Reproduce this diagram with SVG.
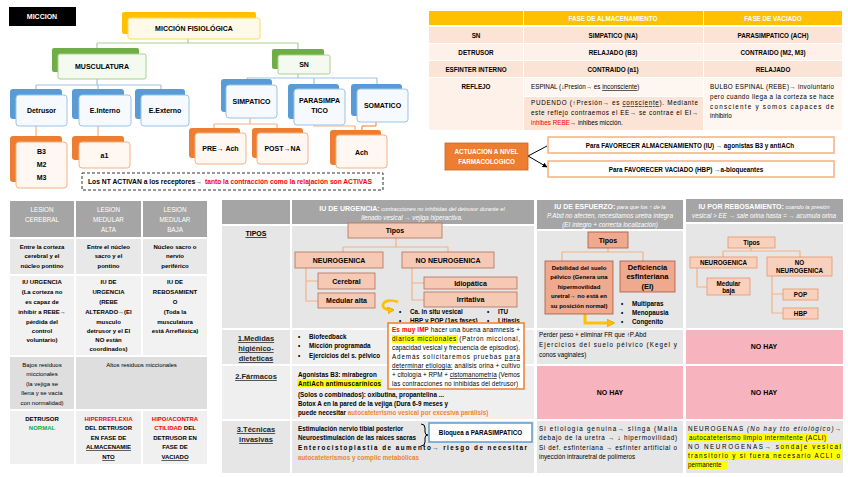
<svg xmlns="http://www.w3.org/2000/svg" width="848" height="477" viewBox="0 0 848 477">
<defs>
<style>
text{font-family:"Liberation Sans",Arial,sans-serif;font-size:6.3px;fill:#000}
.b{font-weight:bold}
.m{text-anchor:middle}
.w{fill:#fff}
.r{fill:#ff0000}
.o{fill:#F0852F}
.g{fill:#00B050}
.i{font-style:italic}
.u{text-decoration:underline}
.f7{font-size:7px}
.f6{font-size:6px}
.f75{font-size:7.5px}
.lab{font-size:7.5px;font-weight:bold;fill:#222;text-anchor:middle;text-decoration:underline}
.hdr{fill:#A5A5A5}
.ln-g{stroke:#A9D18E;stroke-width:1.2;fill:none}
.ln-b{stroke:#9DC3E6;stroke-width:1.2;fill:none}
.ln-o{stroke:#F4B183;stroke-width:1.2;fill:none}
.bk-y{fill:#FFC000}
.fr-y{fill:#FFF9E8;stroke:#FFD966;stroke-width:1}
.bk-g{fill:#70AD47}
.fr-g{fill:#F4FAF0;stroke:#A9D18E;stroke-width:1}
.bk-b{fill:#5B9BD5}
.fr-b{fill:#F6FAFE;stroke:#9DC3E6;stroke-width:1}
.bk-o{fill:#ED7D31}
.fr-o{fill:#FFF7F2;stroke:#F4B183;stroke-width:1}
.tb{fill:#F6C9B5;stroke:#B0705A;stroke-width:0.8}
.tb2{fill:#EFA98F;stroke:#A8583C;stroke-width:0.8}
.tb3{fill:#F9D0BC;stroke:#E8956C;stroke-width:0.8}
.pk{fill:#F8B4BE}
.hl{fill:#FFFF00}
.c1{fill:#E6E6E6}
.c2{fill:#EFEFEF}
.p1{fill:#FBE4D5}
.p2{fill:#FDF1E9}
</style>
<marker id="ak" viewBox="0 0 10 10" refX="9" refY="5" markerWidth="5" markerHeight="5" orient="auto-start-reverse"><path d="M0,0L10,5L0,10z" fill="#000"/></marker>
<marker id="ao" viewBox="0 0 10 10" refX="9" refY="5" markerWidth="4" markerHeight="4" orient="auto-start-reverse"><path d="M0,0L10,5L0,10z" fill="#ED7D31"/></marker>
<marker id="ay" viewBox="0 0 10 10" refX="8" refY="5" markerWidth="2.6" markerHeight="2.6" orient="auto"><path d="M0,0L10,5L0,10z" fill="#FFC000" stroke="#E0A000"/></marker>
</defs>
<rect width="848" height="477" fill="#fff"/>

<g id="tables">
  <!-- top right table -->
  <rect x="429" y="11" width="94" height="14" fill="#FFC000"/>
  <rect x="524" y="11" width="179" height="14" fill="#FFC000"/>
  <rect x="704" y="11" width="138" height="14" fill="#FFC000"/>
  <text class="b w m" x="613" y="20.5">FASE DE ALMACENAMIENTO</text>
  <text class="b w m" x="773" y="20.5">FASE DE VACIADO</text>
  <rect class="p1" x="429" y="27" width="94" height="16"/><rect class="p1" x="524" y="27" width="179" height="16"/><rect class="p1" x="704" y="27" width="138" height="16"/>
  <rect class="p2" x="429" y="44" width="94" height="16"/><rect class="p2" x="524" y="44" width="179" height="16"/><rect class="p2" x="704" y="44" width="138" height="16"/>
  <rect class="p1" x="429" y="61" width="94" height="16"/><rect class="p1" x="524" y="61" width="179" height="16"/><rect class="p1" x="704" y="61" width="138" height="16"/>
  <rect class="p2" x="429" y="78" width="94" height="52"/><rect fill="#FEF6F1" x="524" y="78" width="179" height="18"/><rect class="p1" x="524" y="97" width="179" height="33"/><rect fill="#FEF6F1" x="704" y="78" width="138" height="52"/>
  <text class="b m" x="476" y="37.5">SN</text>
  <text class="b m" x="613" y="37.5">SIMPATICO (NA)</text>
  <text class="b m" x="773" y="37.5">PARASIMPATICO (ACH)</text>
  <text class="b m" x="476" y="54.5">DETRUSOR</text>
  <text class="b m" x="613" y="54.5">RELAJADO (B3)</text>
  <text class="b m" x="773" y="54.5">CONTRAIDO (M2, M3)</text>
  <text class="b m" x="476" y="71.5">ESFINTER INTERNO</text>
  <text class="b m" x="613" y="71.5">CONTRAIDO (a1)</text>
  <text class="b m" x="773" y="71.5">RELAJADO</text>
  <text class="b m" x="476" y="89">REFLEJO</text>
  <text x="531" y="89">ESPINAL (↓Presión→ es <tspan class="u">inconsciente</tspan>)</text>
  <text x="531" y="105" textLength="167" lengthAdjust="spacing">PUDENDO (↑Presión→ es <tspan class="u">consciente</tspan>). Mediante</text>
  <text x="531" y="115" textLength="167" lengthAdjust="spacing">este reflejo contraemos el EE→ se contrae el EI→</text>
  <text x="531" y="125"><tspan class="r">inhibes REBE</tspan>→ inhibes micción.</text>
  <text x="710" y="89" textLength="124" lengthAdjust="spacing">BULBO ESPINAL (REBE)→ involuntario</text>
  <text x="710" y="99" textLength="124" lengthAdjust="spacing">pero cuando llega a la corteza se hace</text>
  <text x="710" y="109" textLength="124" lengthAdjust="spacing">consciente y somos capaces de</text>
  <text x="710" y="118">inhibirlo</text>

  <!-- bottom left table -->
  <rect class="hdr" x="10" y="201" width="64" height="36"/><rect class="hdr" x="76" y="201" width="65" height="36"/><rect class="hdr" x="143" y="201" width="64" height="36"/>
  <rect fill="#E8E8E8" x="10" y="239" width="64" height="35"/><rect fill="#E8E8E8" x="76" y="239" width="65" height="35"/><rect fill="#E8E8E8" x="143" y="239" width="64" height="35"/>
  <rect fill="#F2F2F2" x="10" y="276" width="64" height="79"/><rect fill="#F2F2F2" x="76" y="276" width="65" height="79"/><rect fill="#F2F2F2" x="143" y="276" width="64" height="79"/>
  <rect fill="#DEDEDE" x="10" y="357" width="64" height="52"/><rect fill="#DEDEDE" x="76" y="357" width="131" height="52"/>
  <rect fill="#F0F0F0" x="10" y="411" width="64" height="53"/><rect fill="#F0F0F0" x="76" y="411" width="65" height="53"/><rect fill="#F0F0F0" x="143" y="411" width="64" height="53"/>
  <g class="m">
    <text class="w m" x="42" y="212">LESION</text><text class="w m" x="42" y="222">CEREBRAL</text>
    <text class="w m" x="108.5" y="212">LESION</text><text class="w m" x="108.5" y="222">MEDULAR</text><text class="w m" x="108.5" y="232">ALTA</text>
    <text class="w m" x="175" y="212">LESION</text><text class="w m" x="175" y="222">MEDULAR</text><text class="w m" x="175" y="232">BAJA</text>
    <text class="b m f6" x="42" y="249">Entre la corteza</text><text class="b m f6" x="42" y="258">cerebral y el</text><text class="b m f6" x="42" y="268">núcleo pontino</text>
    <text class="b m f6" x="108.5" y="249">Entre el núcleo</text><text class="b m f6" x="108.5" y="258">sacro y el</text><text class="b m f6" x="108.5" y="268">pontino</text>
    <text class="b m f6" x="175" y="249">Núcleo sacro o</text><text class="b m f6" x="175" y="258">nervio</text><text class="b m f6" x="175" y="268">periférico</text>
    <text class="b m f6" x="42" y="284">IU URGENCIA</text><text class="b m f6" x="42" y="294">(La corteza no</text><text class="b m f6" x="42" y="304">es capaz de</text><text class="b m f6" x="42" y="314">inhibir a REBE→</text><text class="b m f6" x="42" y="324">pérdida del</text><text class="b m f6" x="42" y="333">control</text><text class="b m f6" x="42" y="342">voluntario)</text>
    <text class="b m f6" x="108.5" y="284">IU DE</text><text class="b m f6" x="108.5" y="294">URGENCIA</text><text class="b m f6" x="108.5" y="304">(REBE</text><text class="b m f6" x="108.5" y="314">ALTERADO→(El</text><text class="b m f6" x="108.5" y="324">musculo</text><text class="b m f6" x="108.5" y="333">detrusor y el EI</text><text class="b m f6" x="108.5" y="342">NO están</text><text class="b m f6" x="108.5" y="351">coordinados)</text>
    <text class="b m f6" x="175" y="284">IU DE</text><text class="b m f6" x="175" y="294">REBOSAMIENT</text><text class="b m f6" x="175" y="304">O</text><text class="b m f6" x="175" y="314">(Toda la</text><text class="b m f6" x="175" y="324">musculatura</text><text class="b m f6" x="175" y="333">está Arrefléxica)</text>
    <text class="m f6" x="42" y="367">Bajos residuos</text><text class="m f6" x="42" y="376">miccionales</text><text class="m f6" x="42" y="386">(la vejiga se</text><text class="m f6" x="42" y="395">llena y se vacía</text><text class="m f6" x="42" y="405">con normalidad)</text>
    <text class="m f6" x="141.5" y="367">Altos residuos miccionales</text>
    <text class="b m f6" x="42" y="421">DETRUSOR</text><text class="b m f6 g" x="42" y="430">NORMAL</text>
    <text class="b m f6 r" x="108.5" y="421">HIPERREFLEXIA</text><text class="b m f6" x="108.5" y="430">DEL DETRUSOR</text><text class="b m f6" x="108.5" y="440">EN FASE DE</text><text class="b m f6 u" x="108.5" y="449">ALMACENAMIE</text><text class="b m f6 u" x="108.5" y="459">NTO</text>
    <text class="b m f6 r" x="175" y="421">HIPO/ACONTRA</text><text class="b m f6" x="175" y="430"><tspan class="r">CTILIDAD</tspan> DEL</text><text class="b m f6" x="175" y="440">DETRUSOR EN</text><text class="b m f6" x="175" y="449">FASE DE</text><text class="b m f6 u" x="175" y="459">VACIADO</text>
  </g>

  <!-- big IU table -->
  <rect class="hdr" x="222" y="200" width="68" height="24"/>
  <rect class="hdr" x="292" y="200" width="242" height="24"/>
  <rect class="hdr" x="537" y="200" width="146" height="29"/>
  <rect class="hdr" x="686" y="199" width="157" height="23"/>
  <text class="w m" x="412" y="210.5"><tspan class="b f7">IU DE URGENCIA:</tspan><tspan class="i" font-size="5.6"> contracciones no inhibidas del detrusor durante el</tspan></text>
  <text class="w m i" x="412" y="219.5" font-size="5.6">llenado vesical → vejiga hiperactiva.</text>
  <text class="w m" x="610" y="209"><tspan class="b f7">IU DE ESFUERZO:</tspan><tspan class="i" font-size="5.6"> para que los ↑ de la</tspan></text>
  <text class="w m i" x="610" y="218" font-size="5.6">P.Abd no afecten, necesitamos uretra íntegra</text>
  <text class="w m i" x="610" y="226.5" font-size="5.6">(EI íntegro + correcta localización)</text>
  <text class="w m" x="764" y="209"><tspan class="b f7">IU POR REBOSAMIENTO:</tspan><tspan class="i" font-size="5.6"> cuando la presión</tspan></text>
  <text class="w m i" x="764" y="218" font-size="5.6">vesical &gt; EE → sale orina hasta = → acumula orina</text>

  <rect class="c1" x="222" y="226" width="68" height="102"/>
  <rect class="c1" x="292" y="226" width="242" height="102"/>
  <rect class="c1" x="537" y="231" width="146" height="97"/>
  <rect class="c1" x="686" y="224" width="157" height="104"/>
  <rect class="c1" x="222" y="330" width="68" height="34"/>
  <rect class="c2" x="292" y="330" width="242" height="34"/>
  <rect class="c1" x="537" y="330" width="146" height="34"/>
  <rect class="pk" x="686" y="330" width="157" height="34"/>
  <rect class="c2" x="222" y="366" width="68" height="53"/>
  <rect class="c2" x="292" y="366" width="242" height="53"/>
  <rect class="pk" x="537" y="366" width="146" height="53"/>
  <rect class="pk" x="686" y="366" width="157" height="53"/>
  <rect class="c1" x="222" y="421" width="68" height="52"/>
  <rect class="c1" x="292" y="421" width="242" height="52"/>
  <rect class="c1" x="537" y="421" width="146" height="52"/>
  <rect class="c1" x="686" y="421" width="157" height="52"/>

  <text class="b m u f7" x="256" y="236">TIPOS</text>
  <text class="lab" x="256" y="341">1.Medidas</text>
  <text class="lab" x="256" y="351">higiénico-</text>
  <text class="lab" x="256" y="361">dieteticas</text>
  <text class="lab" x="256" y="379">2.Fármacos</text>
  <text class="lab" x="256" y="432">3.Técnicas</text>
  <text class="lab" x="256" y="442">invasivas</text>

  <!-- urgencia tipos bullets -->
  <text class="b" x="399" y="314">•</text><text class="b" x="410" y="314">Ca. in situ vesical</text>
  <text class="b" x="399" y="323">•</text><text class="b" x="410" y="323">HBP y POP (1as fases)</text>
  <text class="b" x="487" y="314">•</text><text class="b" x="498" y="314">ITU</text>
  <text class="b" x="487" y="323">•</text><text class="b" x="498" y="323">Litiasis</text>

  <!-- urgencia medidas -->
  <text class="b" x="298" y="339">•</text><text class="b" x="309" y="339">Biofeedback</text>
  <text class="b" x="298" y="348">•</text><text class="b" x="309" y="348">Micción programada</text>
  <text class="b" x="298" y="358">•</text><text class="b" x="309" y="358">Ejercicios del s. pélvico</text>

  <!-- urgencia farmacos -->
  <text class="b" x="298" y="377">Agonistas B3: mirabegron</text>
  <rect class="hl" x="297" y="379" width="85" height="8"/>
  <text class="b" x="298" y="386" textLength="83" lengthAdjust="spacing">AntiAch antimuscarínicos</text>
  <text class="b" x="298" y="397">(Solos o combinados): oxibutina, propantelina ...</text>
  <text class="b" x="298" y="406">Botox A en la pared de la vejiga (Dura 6-9 meses y</text>
  <text class="b" x="298" y="415">puede necesitar <tspan class="o">autocateterismo vesical por excesiva parálisis)</tspan></text>

  <!-- urgencia tecnicas -->
  <text class="b" x="298" y="431">Estimulación nervio tibial posterior</text>
  <text class="b" x="298" y="440">Neuroestimulación de las raíces sacras</text>
  <text class="b" x="298" y="450" textLength="229" lengthAdjust="spacing">Enterocistoplastia de aumento→ riesgo de necesitar</text>
  <text class="b o" x="298" y="460">autocateterismos y complic metabólicas</text>

  <!-- esfuerzo medidas / tecnicas -->
  <text x="539" y="337">Perder peso + eliminar FR que ↑P.Abd</text>
  <text x="539" y="347" textLength="138" lengthAdjust="spacing">Ejercicios del suelo pélvico (Kegel y</text>
  <text x="539" y="357">conos vaginales)</text>
  <text class="b m f7" x="610" y="395">NO HAY</text>
  <text x="539" y="431" textLength="138" lengthAdjust="spacing">Si etiología genuina→ slinga (Malla</text>
  <text x="539" y="440" textLength="138" lengthAdjust="spacing">debajo de la uretra → ↓ hipermovilidad)</text>
  <text x="539" y="450" textLength="138" lengthAdjust="spacing">Si def. esfinteriana → esfínter artificial o</text>
  <text x="539" y="459">inyección intrauretral de polímeros</text>

  <!-- rebosamiento -->
  <text class="b m f7" x="764" y="349">NO HAY</text>
  <text class="b m f7" x="764" y="395">NO HAY</text>
  <rect class="hl" x="688" y="433" width="139" height="8"/>
  <rect class="hl" x="779" y="443" width="62" height="8"/>
  <rect class="hl" x="688" y="452" width="153" height="8"/>
  <rect class="hl" x="688" y="461" width="40" height="8"/>
  <text x="688" y="431" textLength="153" lengthAdjust="spacing">NEUROGENAS <tspan class="i">(No hay tto etiológico)</tspan>→</text>
  <text x="689" y="440" textLength="137" lengthAdjust="spacing">autocateterismo limpio intermitente (ACLI)</text>
  <text x="688" y="449" textLength="153" lengthAdjust="spacing">NO NEUROGENAS→ sondaje vesical</text>
  <text x="688" y="458" textLength="152" lengthAdjust="spacing">transitorio y si fuera necesario ACLI o</text>
  <text x="688" y="467">permanente</text>
</g>

<g id="connectors">
  <path class="ln-g" d="M188,39V43M97,43H298M97,43V48M298,43V49"/>
  <path class="ln-b" d="M97,79V85M36,85H161M36,85V89M98,85V89M161,85V89"/>
  <path class="ln-b" d="M298,74V78M247,78H377M247,78V79M314,78V84M377,78V84"/>
  <path class="ln-o" d="M36,126V136M98,126V136"/>
  <path class="ln-o" d="M250,118V124M214,124H277M214,124V128M277,124V128"/>
  <path class="ln-o" d="M314,125V126H355V130"/>
  <path d="M362,137V126H376V117" fill="none" stroke="#ED7D31" stroke-width="1" marker-start="url(#ao)" marker-end="url(#ao)"/>
  <path d="M528,156L547,146M528,156L547,167" fill="none" stroke="#000" stroke-width="1" marker-end="url(#ak)"/>
  <path class="ln-o" d="M396,238V247M343,247H448M343,247V252M448,247V252M306,268V301H318M306,281H318M412,268V300H424M412,283H424"/>
  <path class="ln-o" d="M608,248V252M562,252H643M562,252V261M643,252V261"/>
  <path class="ln-o" d="M751,248V251M723,251H800M723,251V257M800,251V257M697,268V287H707M772,276V313H783M772,294H783"/>
  <path d="M585,314V323H613" fill="none" stroke="#FFC000" stroke-width="3" marker-end="url(#ay)"/>
  <path d="M398,302C381,296 377,311 393,310" fill="none" stroke="#FFC000" stroke-width="2.6" marker-end="url(#ay)"/>
  <path d="M421,424Q425,424 425,428V432Q425,435 428,435Q425,435 425,438V442Q425,446 421,446" fill="none" stroke="#000" stroke-width="1"/>
</g>

<g id="n-miccion"><rect x="9" y="7" width="67" height="19" fill="#000"/><text class="b w m f7" x="42" y="19">MICCION</text></g>
<g id="n-fisiologica"><rect class="bk-y" x="122" y="12" width="134" height="22" rx="2"/><rect class="fr-y" x="128" y="18" width="132" height="21" rx="2"/><text class="b m f7" x="194" y="31">MICCIÓN FISIOLÓGICA</text></g>
<g id="n-musculatura"><rect class="bk-g" x="52" y="48" width="87" height="24" rx="2"/><rect class="fr-g" x="58" y="54" width="88" height="25" rx="2"/><text class="b m f7" x="102" y="69">MUSCULATURA</text></g>
<g id="n-sn"><rect class="bk-g" x="272" y="49" width="52" height="20" rx="2"/><rect class="fr-g" x="278" y="55" width="52" height="19" rx="2"/><text class="b m f7" x="304" y="67">SN</text></g>
<g id="n-detrusor"><rect class="bk-b" x="10" y="89" width="52" height="30" rx="3"/><rect class="fr-b" x="16" y="95" width="51" height="31" rx="3"/><text class="b m f7" x="41.5" y="113">Detrusor</text></g>
<g id="n-einterno"><rect class="bk-b" x="72" y="89" width="52" height="30" rx="3"/><rect class="fr-b" x="79" y="95" width="52" height="31" rx="3"/><text class="b m f7" x="105" y="113">E.Interno</text></g>
<g id="n-eexterno"><rect class="bk-b" x="135" y="89" width="50" height="30" rx="3"/><rect class="fr-b" x="141" y="95" width="48" height="31" rx="3"/><text class="b m f7" x="165" y="113">E.Externo</text></g>
<g id="n-b3"><rect class="bk-o" x="10" y="136" width="52" height="46" rx="3"/><rect class="fr-o" x="16" y="142" width="51" height="46" rx="3"/><text class="b m f7" x="41.5" y="154">B3</text><text class="b m f7" x="41.5" y="167">M2</text><text class="b m f7" x="41.5" y="180">M3</text></g>
<g id="n-a1"><rect class="bk-o" x="72" y="136" width="52" height="24" rx="3"/><rect class="fr-o" x="79" y="142" width="51" height="26" rx="3"/><text class="b m f7" x="104.5" y="158">a1</text></g>
<g id="n-simpatico"><rect class="bk-b" x="221" y="79" width="51" height="33" rx="3"/><rect class="fr-b" x="226" y="85" width="51" height="33" rx="3"/><text class="b m f7" x="251.5" y="104">SIMPATICO</text></g>
<g id="n-parasimpatico"><rect class="bk-b" x="288" y="84" width="51" height="35" rx="3"/><rect class="fr-b" x="294" y="89" width="51" height="36" rx="3"/><text class="b m f7" x="319.5" y="103">PARASIMPA</text><text class="b m f7" x="319.5" y="113">TICO</text></g>
<g id="n-somatico"><rect class="bk-b" x="351" y="84" width="51" height="32" rx="3"/><rect class="fr-b" x="357" y="89" width="51" height="33" rx="3"/><text class="b m f7" x="382.5" y="108">SOMATICO</text></g>
<g id="n-pre"><rect class="bk-o" x="189" y="128" width="51" height="30" rx="3"/><rect class="fr-o" x="195" y="133" width="51" height="31" rx="3"/><text class="b m f7" x="220.5" y="151">PRE→ Ach</text></g>
<g id="n-post"><rect class="bk-o" x="252" y="128" width="51" height="30" rx="3"/><rect class="fr-o" x="257" y="133" width="51" height="31" rx="3"/><text class="b m f7" x="282.5" y="151">POST→NA</text></g>
<g id="n-ach"><rect class="bk-o" x="330" y="130" width="51" height="35" rx="3"/><rect class="fr-o" x="336" y="135" width="51" height="33" rx="3"/><text class="b m f7" x="361.5" y="155">Ach</text></g>
<g id="n-nota"><rect x="82" y="173" width="301" height="17" fill="#fff" stroke="#333" stroke-width="1" stroke-dasharray="3,2"/><text class="b" x="88" y="184" textLength="114" lengthAdjust="spacingAndGlyphs">Los NT ACTIVAN a los receptores→</text><text class="b r" x="205" y="184" textLength="167" lengthAdjust="spacingAndGlyphs">tanto la contracción como la relajación son ACTIVAS</text></g>

<g id="n-actuacion"><rect x="445" y="143" width="83" height="27" fill="#ED7D31" stroke="#D0631A" stroke-width="0.8"/><text class="b w m" x="486.5" y="154">ACTUACION A NIVEL</text><text class="b w m" x="486.5" y="164">FARMACOLOGICO</text></g>
<g id="n-almacen"><rect x="548" y="137" width="286" height="16" fill="#fff" stroke="#F4B183" stroke-width="1.5"/><text class="b m" x="690" y="147.5">Para FAVORECER ALMACENAMIENTO (IU) → agonistas B3 y antiACh</text></g>
<g id="n-vaciado"><rect x="548" y="161" width="286" height="16" fill="#fff" stroke="#F4B183" stroke-width="1.5"/><text class="b m" x="686" y="171.5">Para FAVORECER VACIADO (HBP) →a-bloqueantes</text></g>

<g id="n-u-tipos"><rect class="tb" x="348" y="223" width="94" height="15"/><text class="b m f7" x="395" y="233">Tipos</text></g>
<g id="n-u-neuro"><rect class="tb" x="295" y="252" width="88" height="16"/><text class="b m f7" x="339" y="263">NEUROGENICA</text></g>
<g id="n-u-noneuro"><rect class="tb" x="402" y="252" width="92" height="16"/><text class="b m f7" x="448" y="263">NO NEUROGENICA</text></g>
<g id="n-u-cerebral"><rect class="tb" x="318" y="273" width="57" height="16"/><text class="b m f7" x="346.5" y="284">Cerebral</text></g>
<g id="n-u-medalta"><rect class="tb" x="318" y="293" width="57" height="15"/><text class="b m f7" x="346.5" y="303">Medular alta</text></g>
<g id="n-u-idio"><rect class="tb" x="424" y="277" width="93" height="12"/><text class="b m f7" x="470.5" y="286">Idiopática</text></g>
<g id="n-u-irrit"><rect class="tb" x="424" y="292" width="93" height="15"/><text class="b m f7" x="470.5" y="302">Irritativa</text></g>
<g id="n-u-nota"><rect x="388" y="323" width="136" height="66" fill="#fff" stroke="#ED7D31" stroke-width="1.5"/>
  <rect class="hl" x="392" y="335" width="66" height="8"/>
  <text x="392" y="332" textLength="128" lengthAdjust="spacing"><tspan class="b r">Es muy IMP</tspan> hacer una buena anamnesis +</text>
  <text x="392" y="341" textLength="128" lengthAdjust="spacing">diarios miccionales (Patrón miccional,</text>
  <text x="392" y="350" textLength="128" lengthAdjust="spacing">capacidad vesical y frecuencia de episodios).</text>
  <text x="392" y="359" textLength="128" lengthAdjust="spacing">Además solicitaremos pruebas <tspan class="u">para</tspan></text>
  <text x="392" y="368" textLength="128" lengthAdjust="spacing"><tspan class="u">determinar etiología:</tspan> análisis orina + cultivo</text>
  <text x="392" y="377" textLength="128" lengthAdjust="spacing">+ citología + RPM + <tspan class="u">cistomanometría</tspan> (Vemos</text>
  <text x="392" y="386" textLength="126" lengthAdjust="spacing">las contracciones no inhibidas del detrusor)</text>
</g>
<g id="n-u-bloquea"><rect x="429" y="423" width="103" height="19" fill="#fff" stroke="#5B9BD5" stroke-width="1.5"/><text class="b m" x="480.5" y="435">Bloquea a PARASIMPATICO</text></g>

<g id="n-e-tipos"><rect class="tb2" x="588" y="232" width="40" height="16"/><text class="b m f7" x="608" y="243">Tipos</text></g>
<g id="n-e-debil"><rect class="tb2" x="545" y="261" width="68" height="53"/>
  <text class="b m f6" x="579" y="270">Debilidad del suelo</text><text class="b m f6" x="579" y="279">pélvico (Genera una</text><text class="b m f6" x="579" y="289">hipermovilidad</text><text class="b m f6" x="579" y="298">uretral→ no está en</text><text class="b m f6" x="579" y="308">su posición normal)</text></g>
<g id="n-e-defic"><rect class="tb2" x="620" y="261" width="55" height="31"/>
  <text class="b m f75" x="647.5" y="270">Deficiencia</text><text class="b m f75" x="647.5" y="279">esfinteriana</text><text class="b m f75" x="647.5" y="288.5">(EI)</text></g>
<g id="n-e-bullets"><text class="b" x="621" y="306">•</text><text class="b" x="632" y="306">Multiparas</text><text class="b" x="621" y="315">•</text><text class="b" x="632" y="315">Menopausia</text><text class="b" x="621" y="324">•</text><text class="b" x="632" y="324">Congenito</text></g>

<g id="n-r-tipos"><rect class="tb3" x="728" y="237" width="47" height="11"/><text class="b m" x="751.5" y="245">Tipos</text></g>
<g id="n-r-neuro"><rect class="tb3" x="690" y="257" width="67" height="11"/><text class="b m" x="723.5" y="265">NEUROGENICA</text></g>
<g id="n-r-noneuro"><rect class="tb3" x="767" y="257" width="65" height="19"/><text class="b m" x="799.5" y="264.5">NO</text><text class="b m" x="799.5" y="273">NEUROGENICA</text></g>
<g id="n-r-medbaja"><rect class="tb3" x="707" y="278" width="43" height="17"/><text class="b m" x="728.5" y="285.5">Medular</text><text class="b m" x="728.5" y="293">baja</text></g>
<g id="n-r-pop"><rect class="tb3" x="783" y="289" width="35" height="11"/><text class="b m" x="800.5" y="297">POP</text></g>
<g id="n-r-hbp"><rect class="tb3" x="783" y="308" width="35" height="11"/><text class="b m" x="800.5" y="316">HBP</text></g>
</svg>
